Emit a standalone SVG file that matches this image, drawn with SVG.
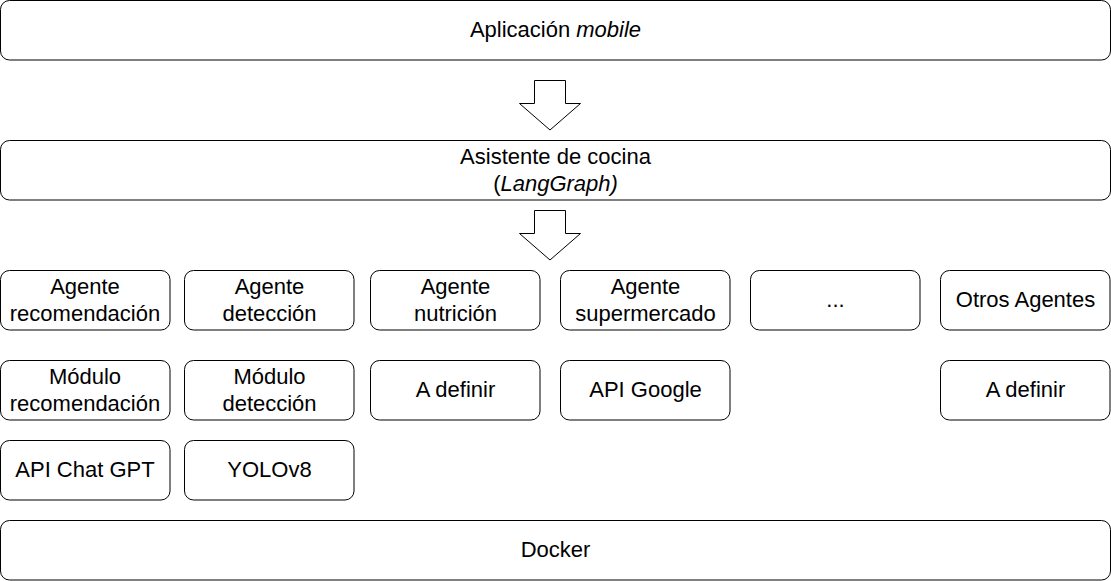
<svg xmlns="http://www.w3.org/2000/svg" width="1111" height="581" viewBox="0 0 1111 581">
<style>
.b{fill:#fff;stroke:#000;stroke-width:1}
.t{font-family:"Liberation Sans",Arial,Helvetica,sans-serif;font-size:22px;fill:#000;text-anchor:middle}
.i{font-style:italic}
.ar{fill:#fff;stroke:#000;stroke-width:1;stroke-linejoin:miter}
</style>
<rect width="1111" height="581" fill="#fff"/>
<g id="app"><rect class="b" x="0.5" y="0.5" width="1110" height="59.5" rx="9"/><text class="t" x="555.5" y="36.5">Aplicación <tspan class="i">mobile</tspan></text></g>
<g id="asistente"><rect class="b" x="0.5" y="140.5" width="1110" height="59.5" rx="9"/><text class="t" x="555.5" y="164">Asistente de cocina</text><text class="t" x="555.5" y="191">(<tspan class="i">LangGraph)</tspan></text></g>
<g id="connectors">
<path class="ar" d="M534.5 80.5 H565.5 V103.5 H580.5 L550 130 L519.5 103.5 H534.5 Z"/>
<path class="ar" d="M534.5 210.5 H565.5 V233.5 H580.5 L550 260 L519.5 233.5 H534.5 Z"/>
</g>
<g id="ag-rec"><rect class="b" x="0.5" y="270.5" width="169.5" height="59.5" rx="9"/><text class="t" x="85" y="294">Agente</text><text class="t" x="85" y="320.5">recomendación</text></g>
<g id="ag-det"><rect class="b" x="184.5" y="270.5" width="169.5" height="59.5" rx="9"/><text class="t" x="269.5" y="294">Agente</text><text class="t" x="269.5" y="320.5">detección</text></g>
<g id="ag-nut"><rect class="b" x="370.5" y="270.5" width="169.5" height="59.5" rx="9"/><text class="t" x="455.5" y="294">Agente</text><text class="t" x="455.5" y="320.5">nutrición</text></g>
<g id="ag-sup"><rect class="b" x="560.5" y="270.5" width="169.5" height="59.5" rx="9"/><text class="t" x="645.5" y="294">Agente</text><text class="t" x="645.5" y="320.5">supermercado</text></g>
<g id="ag-dots"><rect class="b" x="750.5" y="270.5" width="169.5" height="59.5" rx="9"/><text class="t" x="835.5" y="307">...</text></g>
<g id="ag-otros"><rect class="b" x="940.5" y="270.5" width="169.5" height="59.5" rx="9"/><text class="t" x="1025.5" y="307">Otros Agentes</text></g>
<g id="mod-rec"><rect class="b" x="0.5" y="360.5" width="169.5" height="59.5" rx="9"/><text class="t" x="85" y="384">Módulo</text><text class="t" x="85" y="410.5">recomendación</text></g>
<g id="mod-det"><rect class="b" x="184.5" y="360.5" width="169.5" height="59.5" rx="9"/><text class="t" x="269.5" y="384">Módulo</text><text class="t" x="269.5" y="410.5">detección</text></g>
<g id="adef1"><rect class="b" x="370.5" y="360.5" width="169.5" height="59.5" rx="9"/><text class="t" x="455.5" y="397">A definir</text></g>
<g id="apigoogle"><rect class="b" x="560.5" y="360.5" width="169.5" height="59.5" rx="9"/><text class="t" x="645.5" y="397">API Google</text></g>
<g id="adef2"><rect class="b" x="940.5" y="360.5" width="169.5" height="59.5" rx="9"/><text class="t" x="1025.5" y="397">A definir</text></g>
<g id="chatgpt"><rect class="b" x="0.5" y="440.5" width="169.5" height="59.5" rx="9"/><text class="t" x="85" y="477">API Chat GPT</text></g>
<g id="yolo"><rect class="b" x="184.5" y="440.5" width="169.5" height="59.5" rx="9"/><text class="t" x="269.5" y="477">YOLOv8</text></g>
<g id="docker"><rect class="b" x="0.5" y="520.5" width="1110" height="59.5" rx="9"/><text class="t" x="555.5" y="557">Docker</text></g>
</svg>
